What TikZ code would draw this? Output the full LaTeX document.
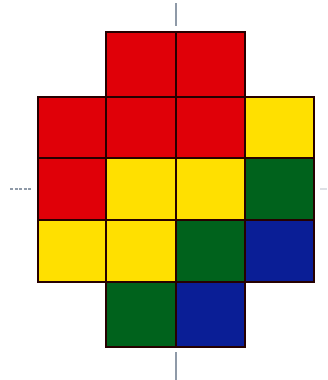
\documentclass[tikz,border=0pt]{standalone}
\definecolor{cred}{HTML}{E00008}
\definecolor{cyel}{HTML}{FFE000}
\definecolor{cgrn}{HTML}{00621C}
\definecolor{cblu}{HTML}{0A1E96}
\definecolor{caxis}{HTML}{8F9AA8}
\begin{document}
\begin{tikzpicture}[x=1pt,y=-1pt,
  cell/.style={draw=black!85!red,line width=1.6pt,line join=miter},
  axis/.style={draw=caxis,line width=1.2pt}]
\useasboundingbox (0,0) rectangle (327,380);
% row 1
\fill[cred] (106,32) rectangle (176,97);
\fill[cred] (176,32) rectangle (245,97);
% row 2
\fill[cred] (38,97) rectangle (106,158);
\fill[cred] (106,97) rectangle (176,158);
\fill[cred] (176,97) rectangle (245,158);
\fill[cyel] (245,97) rectangle (314,158);
% row 3
\fill[cred] (38,158) rectangle (106,220);
\fill[cyel] (106,158) rectangle (176,220);
\fill[cyel] (176,158) rectangle (245,220);
\fill[cgrn] (245,158) rectangle (314,220);
% row 4
\fill[cyel] (38,220) rectangle (106,282);
\fill[cyel] (106,220) rectangle (176,282);
\fill[cgrn] (176,220) rectangle (245,282);
\fill[cblu] (245,220) rectangle (314,282);
% row 5
\fill[cgrn] (106,282) rectangle (176,347);
\fill[cblu] (176,282) rectangle (245,347);
% grid lines
\draw[cell] (106,32) rectangle (245,97);
\draw[cell] (176,32) -- (176,347);
\draw[cell] (38,97) rectangle (314,282);
\draw[cell] (106,97) -- (106,347);
\draw[cell] (245,97) -- (245,282);
\draw[cell] (38,158) -- (314,158);
\draw[cell] (38,220) -- (314,220);
\draw[cell] (106,282) rectangle (245,347);
% axis marks
\coordinate (vt1) at (176,3); \coordinate (vt2) at (176,26);
\coordinate (vb1) at (176,352); \coordinate (vb2) at (176,380);
\coordinate (hl1) at (10,189); \coordinate (hl2) at (32,189);
\coordinate (hr1) at (320,189); \coordinate (hr2) at (327,189);
\draw[axis] (vt1) -- (vt2);
\draw[axis] (vb1) -- (vb2);
\draw[axis,dash pattern=on 3pt off 1.5pt] (hl1) -- (hl2);
\draw[axis,draw opacity=0.3] (hr1) -- (hr2);
\end{tikzpicture}
\end{document}
